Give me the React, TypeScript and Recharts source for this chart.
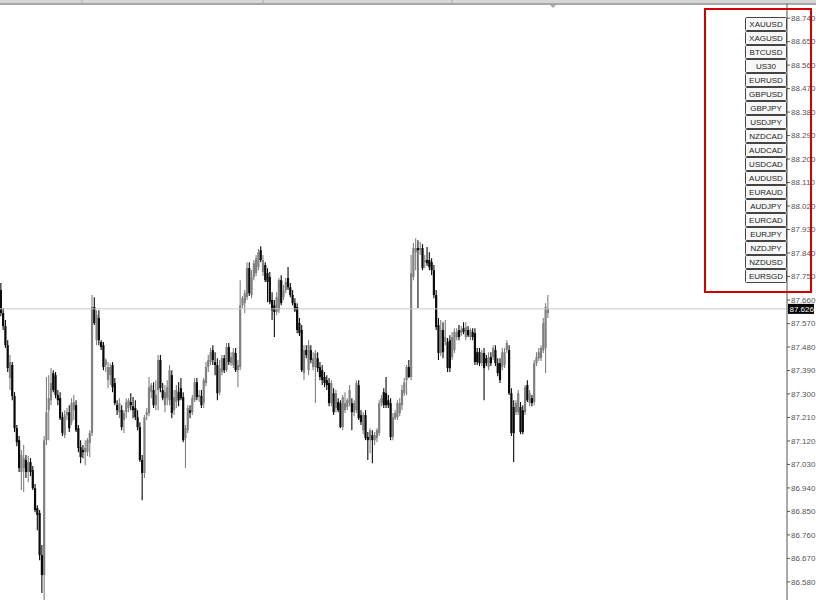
import React from 'react';
import { ComposedChart, Bar, XAxis, YAxis, ReferenceLine } from 'recharts';

// ─── Layout ──────────────────────────────────────────────────────────────────
const W = 816;
const H = 600;
const AXIS_W = 29; // price scale strip on the right
const PLOT_W = W - AXIS_W;
const LAST_X = 548; // x of the newest candle (chart shift leaves empty space)

// ─── Data ────────────────────────────────────────────────────────────────────
// candles, oldest first: [open, high, low, close]
const OHLC: number[][] = [
    [87.698, 87.725, 87.598, 87.610], [87.610, 87.629, 87.545, 87.560], [87.560, 87.583, 87.476, 87.487],
    [87.487, 87.506, 87.384, 87.399], [87.361, 87.449, 87.315, 87.422], [87.411, 87.422, 87.276, 87.292],
    [87.292, 87.307, 87.154, 87.169], [87.169, 87.181, 87.100, 87.115], [87.123, 87.139, 87.001, 87.016],
    [87.001, 87.085, 86.932, 87.066], [87.016, 87.104, 86.924, 87.054], [87.047, 87.066, 86.978, 87.001],
    [87.001, 87.062, 86.962, 87.039], [87.039, 87.054, 86.985, 87.001], [87.008, 87.024, 86.932, 86.939],
    [86.939, 86.955, 86.847, 86.855], [86.863, 86.874, 86.778, 86.836], [86.844, 86.855, 86.663, 86.683],
    [86.683, 86.721, 86.537, 86.606], [86.606, 87.139, 86.510, 87.123],
    [87.123, 87.365, 87.104, 87.230], [87.238, 87.372, 87.123, 87.284], [87.276, 87.399, 87.257, 87.342],
    [87.380, 87.391, 87.307, 87.315], [87.372, 87.384, 87.284, 87.296], [87.296, 87.315, 87.257, 87.276],
    [87.284, 87.307, 87.200, 87.207], [87.211, 87.230, 87.139, 87.150], [87.142, 87.238, 87.131, 87.219],
    [87.219, 87.246, 87.200, 87.230], [87.230, 87.257, 87.154, 87.169], [87.192, 87.284, 87.181, 87.265],
    [87.238, 87.296, 87.200, 87.269], [87.257, 87.276, 87.154, 87.161], [87.169, 87.181, 87.077, 87.093],
    [87.096, 87.123, 87.035, 87.058], [87.085, 87.104, 87.054, 87.077], [87.077, 87.123, 87.027, 87.093],
    [87.077, 87.131, 87.062, 87.123], [87.112, 87.161, 87.058, 87.150], [87.150, 87.679, 87.139, 87.633],
    [87.633, 87.671, 87.564, 87.572], [87.506, 87.621, 87.487, 87.602], [87.591, 87.621, 87.487, 87.506],
    [87.499, 87.506, 87.468, 87.480], [87.487, 87.499, 87.391, 87.403], [87.411, 87.437, 87.384, 87.430],
    [87.353, 87.422, 87.322, 87.403], [87.372, 87.418, 87.334, 87.403], [87.411, 87.422, 87.307, 87.326],
    [87.342, 87.361, 87.257, 87.265], [87.257, 87.276, 87.219, 87.238], [87.230, 87.284, 87.207, 87.265],
    [87.238, 87.257, 87.161, 87.173], [87.200, 87.238, 87.150, 87.227], [87.230, 87.284, 87.207, 87.269],
    [87.246, 87.284, 87.230, 87.276], [87.269, 87.303, 87.238, 87.257], [87.253, 87.288, 87.207, 87.238],
    [87.246, 87.276, 87.200, 87.211], [87.211, 87.238, 87.161, 87.173], [87.173, 87.192, 87.039, 87.047],
    [87.047, 87.066, 86.893, 86.997], [86.997, 87.219, 86.978, 87.211], [87.219, 87.246, 87.200, 87.230],
    [87.227, 87.365, 87.215, 87.326], [87.307, 87.342, 87.284, 87.334], [87.315, 87.345, 87.246, 87.257],
    [87.257, 87.353, 87.238, 87.296], [87.315, 87.449, 87.238, 87.430], [87.430, 87.449, 87.307, 87.322],
    [87.315, 87.342, 87.276, 87.284], [87.257, 87.334, 87.230, 87.307], [87.284, 87.353, 87.257, 87.326],
    [87.276, 87.411, 87.257, 87.391], [87.372, 87.391, 87.207, 87.227], [87.238, 87.315, 87.219, 87.288],
    [87.269, 87.334, 87.246, 87.315], [87.307, 87.345, 87.253, 87.276], [87.322, 87.361, 87.276, 87.284],
    [87.288, 87.307, 87.115, 87.123], [87.131, 87.181, 87.016, 87.169], [87.161, 87.257, 87.150, 87.246],
    [87.238, 87.257, 87.207, 87.227], [87.230, 87.296, 87.219, 87.284], [87.276, 87.361, 87.269, 87.345],
    [87.345, 87.361, 87.276, 87.288], [87.288, 87.315, 87.269, 87.296], [87.292, 87.315, 87.246, 87.257],
    [87.265, 87.361, 87.246, 87.353], [87.342, 87.422, 87.330, 87.403], [87.403, 87.449, 87.384, 87.430],
    [87.422, 87.476, 87.411, 87.460], [87.468, 87.487, 87.411, 87.430], [87.422, 87.460, 87.372, 87.411],
    [87.411, 87.437, 87.276, 87.303], [87.307, 87.430, 87.296, 87.399], [87.384, 87.449, 87.372, 87.437],
    [87.437, 87.449, 87.380, 87.391], [87.391, 87.495, 87.384, 87.480], [87.480, 87.495, 87.411, 87.422],
    [87.418, 87.460, 87.407, 87.441], [87.411, 87.476, 87.399, 87.460], [87.457, 87.476, 87.384, 87.391],
    [87.391, 87.430, 87.326, 87.411], [87.403, 87.736, 87.391, 87.640],
    [87.640, 87.675, 87.629, 87.667], [87.648, 87.698, 87.610, 87.686], [87.671, 87.805, 87.660, 87.782],
    [87.782, 87.805, 87.675, 87.686], [87.679, 87.774, 87.667, 87.748], [87.748, 87.813, 87.736, 87.801],
    [87.763, 87.832, 87.752, 87.820], [87.786, 87.855, 87.774, 87.843], [87.851, 87.866, 87.805, 87.813],
    [87.767, 87.832, 87.752, 87.813], [87.794, 87.805, 87.729, 87.736], [87.763, 87.782, 87.652, 87.729],
    [87.748, 87.767, 87.644, 87.652], [87.660, 87.690, 87.583, 87.621], [87.640, 87.660, 87.518, 87.614],
    [87.614, 87.690, 87.602, 87.671], [87.621, 87.744, 87.610, 87.736], [87.736, 87.755, 87.640, 87.648],
    [87.671, 87.717, 87.660, 87.698], [87.698, 87.744, 87.686, 87.729], [87.744, 87.786, 87.698, 87.709],
    [87.709, 87.725, 87.671, 87.679], [87.679, 87.698, 87.640, 87.648], [87.648, 87.667, 87.614, 87.621],
    [87.633, 87.648, 87.533, 87.545], [87.572, 87.591, 87.522, 87.533], [87.545, 87.564, 87.384, 87.391],
    [87.380, 87.487, 87.353, 87.468], [87.468, 87.487, 87.437, 87.449], [87.391, 87.506, 87.372, 87.487],
    [87.468, 87.487, 87.418, 87.430], [87.403, 87.460, 87.391, 87.437], [87.403, 87.468, 87.265, 87.457],
    [87.437, 87.460, 87.384, 87.399], [87.403, 87.422, 87.353, 87.365], [87.391, 87.411, 87.334, 87.353],
    [87.365, 87.384, 87.326, 87.342], [87.353, 87.372, 87.315, 87.334], [87.342, 87.361, 87.253, 87.265],
    [87.265, 87.353, 87.253, 87.342], [87.303, 87.322, 87.219, 87.230], [87.246, 87.315, 87.230, 87.303],
    [87.269, 87.284, 87.230, 87.238], [87.265, 87.276, 87.169, 87.173], [87.173, 87.296, 87.161, 87.288],
    [87.238, 87.307, 87.227, 87.265], [87.250, 87.284, 87.238, 87.276], [87.265, 87.334, 87.253, 87.315],
    [87.265, 87.284, 87.161, 87.230], [87.230, 87.276, 87.215, 87.265], [87.238, 87.353, 87.227, 87.342],
    [87.334, 87.353, 87.200, 87.207], [87.219, 87.238, 87.181, 87.192], [87.161, 87.230, 87.146, 87.219],
    [87.219, 87.238, 87.123, 87.131], [87.135, 87.154, 87.047, 87.123], [87.123, 87.169, 87.073, 87.161],
    [87.142, 87.161, 87.035, 87.123], [87.123, 87.154, 87.104, 87.142], [87.131, 87.169, 87.115, 87.161],
    [87.150, 87.276, 87.139, 87.265], [87.265, 87.296, 87.253, 87.284], [87.307, 87.322, 87.246, 87.257],
    [87.303, 87.365, 87.246, 87.257], [87.276, 87.296, 87.246, 87.257], [87.265, 87.284, 87.123, 87.135],
    [87.135, 87.227, 87.123, 87.211], [87.207, 87.238, 87.200, 87.227], [87.211, 87.276, 87.200, 87.265],
    [87.227, 87.284, 87.215, 87.265], [87.257, 87.334, 87.238, 87.315], [87.303, 87.361, 87.292, 87.345],
    [87.353, 87.411, 87.296, 87.403], [87.403, 87.430, 87.361, 87.365], [87.365, 87.832, 87.353, 87.763],
    [87.748, 87.878, 87.736, 87.859], [87.843, 87.897, 87.774, 87.859], [87.859, 87.889, 87.629, 87.851],
    [87.851, 87.882, 87.832, 87.859], [87.859, 87.874, 87.774, 87.782], [87.805, 87.832, 87.782, 87.813],
    [87.813, 87.863, 87.790, 87.801], [87.813, 87.843, 87.774, 87.786], [87.805, 87.820, 87.755, 87.774],
    [87.774, 87.794, 87.667, 87.679], [87.679, 87.698, 87.545, 87.556], [87.564, 87.591, 87.430, 87.457],
    [87.457, 87.583, 87.445, 87.545], [87.545, 87.575, 87.437, 87.460], [87.499, 87.583, 87.487, 87.518],
    [87.499, 87.514, 87.384, 87.399], [87.506, 87.525, 87.384, 87.399], [87.441, 87.537, 87.430, 87.518],
    [87.468, 87.552, 87.457, 87.537], [87.518, 87.552, 87.506, 87.537], [87.545, 87.564, 87.506, 87.518],
    [87.533, 87.560, 87.522, 87.545], [87.552, 87.575, 87.529, 87.537], [87.518, 87.575, 87.506, 87.556],
    [87.545, 87.560, 87.518, 87.525], [87.518, 87.552, 87.506, 87.545], [87.537, 87.552, 87.506, 87.518],
    [87.533, 87.552, 87.411, 87.422], [87.460, 87.476, 87.411, 87.422], [87.460, 87.476, 87.407, 87.418],
    [87.418, 87.468, 87.407, 87.457], [87.457, 87.476, 87.276, 87.399], [87.437, 87.449, 87.407, 87.418],
    [87.403, 87.460, 87.391, 87.441], [87.441, 87.460, 87.407, 87.418], [87.441, 87.487, 87.430, 87.476],
    [87.468, 87.487, 87.407, 87.418], [87.418, 87.437, 87.368, 87.380], [87.418, 87.437, 87.342, 87.353],
    [87.403, 87.476, 87.391, 87.460], [87.411, 87.476, 87.399, 87.460], [87.468, 87.506, 87.457, 87.495],
    [87.468, 87.487, 87.296, 87.303], [87.303, 87.322, 87.139, 87.150], [87.250, 87.276, 87.039, 87.150],
    [87.230, 87.276, 87.219, 87.265], [87.230, 87.315, 87.219, 87.303], [87.250, 87.269, 87.146, 87.154],
    [87.238, 87.257, 87.146, 87.154], [87.230, 87.334, 87.219, 87.326], [87.334, 87.353, 87.269, 87.276],
    [87.265, 87.315, 87.253, 87.303], [87.284, 87.296, 87.253, 87.265], [87.269, 87.430, 87.257, 87.418],
    [87.418, 87.460, 87.407, 87.441], [87.437, 87.476, 87.426, 87.460], [87.437, 87.487, 87.426, 87.476],
    [87.468, 87.591, 87.457, 87.572], [87.476, 87.648, 87.380, 87.633], [87.610, 87.679, 87.591, 87.626],
];

const PRICE_TICKS = [
    88.740, 88.650, 88.560, 88.470, 88.380, 88.290, 88.200, 88.110, 88.020, 87.930, 87.840, 87.750, 87.660,
    87.570, 87.480, 87.390, 87.300, 87.210, 87.120, 87.030, 86.940, 86.850, 86.760, 86.670, 86.580,
];
const PRICE_MIN = 86.5106;
const PRICE_MAX = 88.8094;
const LAST_PRICE = 87.626;

const SYMBOLS = [
    'XAUUSD', 'XAGUSD', 'BTCUSD', 'US30', 'EURUSD', 'GBPUSD', 'GBPJPY', 'USDJPY', 'NZDCAD', 'AUDCAD',
    'USDCAD', 'AUDUSD', 'EURAUD', 'AUDJPY', 'EURCAD', 'EURJPY', 'NZDJPY', 'NZDUSD', 'EURSGD',
];

const FONT = '"Liberation Sans", Arial, sans-serif';
const BULL = '#808080';
const BEAR = '#0a0a0a';

// ─── Candle shape (range bar low..high, body from payload) ────────────────────
const Candle = (props: any) => {
    const { x, y, width, height, payload } = props;
    if (payload == null || height == null) return null;
    const { o, h, l, c } = payload;
    const k = h === l ? 0 : height / (h - l);
    const yo = y + (h - o) * k;
    const yc = y + (h - c) * k;
    const cx = x + width / 2;
    const col = c >= o ? BULL : BEAR;
    const top = Math.min(yo, yc);
    const bh = Math.max(1.2, Math.abs(yc - yo));
    return (
        <g>
            <line x1={cx} x2={cx} y1={y} y2={y + height} stroke={col} strokeWidth={1.1} />
            <rect x={cx - 1.1} y={top} width={2.2} height={bh} fill={col} />
        </g>
    );
};

// black box with the last price on the price scale
const PriceTag = (props: any) => {
    const vb = props.viewBox;
    if (!vb) return null;
    const x = vb.x + vb.width + 1;
    return (
        <g>
            <rect x={x} y={vb.y - 5} width={26} height={10} fill="#000" />
            <text x={x + 1.5} y={vb.y + 3} fill="#fff" fontSize={8} fontFamily={FONT}>{LAST_PRICE.toFixed(3)}</text>
        </g>
    );
};

export default function App() {
    const data = OHLC.map(([o, h, l, c], i) => ({ i, o, h, l, c }));
    const pitch = (LAST_X - 1) / (OHLC.length - 1);
    const xDomain = [-1 / pitch, (PLOT_W - 1) / pitch];

    return (
        <div style={{ position: 'relative', width: W, height: H, background: '#fff', overflow: 'hidden' }}>
            <style>{'body{margin:0}'}</style>
            <ComposedChart width={W} height={H} data={data} margin={{ top: 0, right: 0, bottom: 0, left: 0 }}>
                <XAxis type="number" dataKey="i" domain={xDomain} hide allowDataOverflow />
                <YAxis
                    orientation="right"
                    width={AXIS_W}
                    domain={[PRICE_MIN, PRICE_MAX]}
                    ticks={PRICE_TICKS}
                    interval={0}
                    allowDataOverflow
                    tickFormatter={(v: number) => v.toFixed(3)}
                    tick={{ fill: '#555', fontSize: 8, fontFamily: FONT }}
                    tickLine={{ stroke: '#555' }}
                    tickSize={3}
                    tickMargin={1}
                    axisLine={{ stroke: '#555' }}
                />
                <ReferenceLine y={LAST_PRICE} stroke="#c8c8c8" strokeWidth={1} label={<PriceTag />} />
                <Bar
                    dataKey={(d: any) => [d.l, d.h]}
                    barSize={2}
                    shape={<Candle />}
                    isAnimationActive={false}
                />
            </ComposedChart>

            {/* window chrome, symbol buttons and the red highlight box */}
            <svg width={W} height={H} style={{ position: 'absolute', left: 0, top: 0, pointerEvents: 'none' }}>
                <rect x={0} y={0} width={W} height={3} fill="#d6d6d6" />
                <line x1={0} x2={W} y1={4} y2={4} stroke="#8a8a8a" strokeWidth={1.5} />
                {[82, 263, 452].map(sx => <line key={sx} x1={sx} x2={sx} y1={0} y2={3} stroke="#aaa" />)}
                <path d="M550,5 L556,5 L553,8 Z" fill="#aaa" />
                {SYMBOLS.map((s, k) => (
                    <g key={s}>
                        <rect x={745.5} y={17.5 + k * 14} width={41} height={13} fill="#f7f7f7" stroke="#444" rx={1} />
                        <text x={766} y={27 + k * 14} textAnchor="middle" fontSize={8} fontFamily={FONT} fill="#222">{s}</text>
                    </g>
                ))}
                <rect x={705} y={9} width={106} height={283} fill="none" stroke="#d40000" strokeWidth={2} />
            </svg>
        </div>
    );
}
